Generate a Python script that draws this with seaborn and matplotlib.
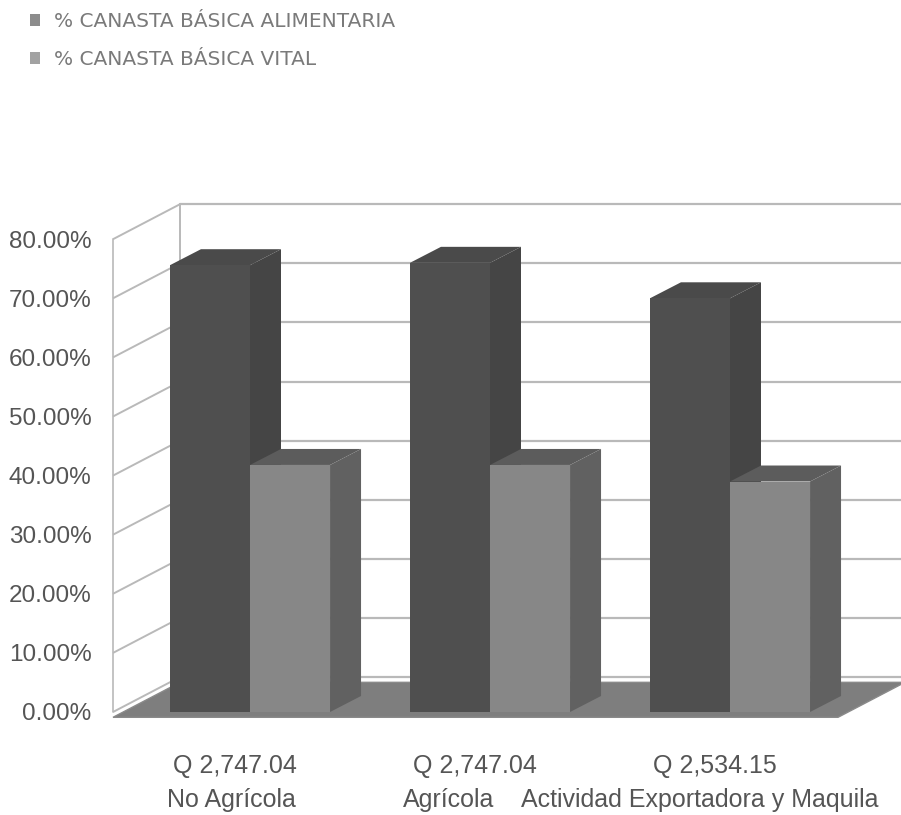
import matplotlib
matplotlib.use("Agg")
import matplotlib.pyplot as plt
import matplotlib.transforms as mtransforms
from matplotlib.patches import Polygon, Patch
import seaborn as sns
import pandas as pd

# ---------------- data ----------------
categories = ["No Agrícola", "Agrícola", "Actividad Exportadora y Maquila"]
salarios = ["Q 2,747.04", "Q 2,747.04", "Q 2,534.15"]
series = ["% CANASTA BÁSICA ALIMENTARIA", "% CANASTA BÁSICA VITAL"]
canasta_alimentaria = [75.6, 76.0, 70.0]
canasta_vital = [41.8, 41.8, 39.0]
y_ticks = [0, 10, 20, 30, 40, 50, 60, 70, 80]
y_tick_labels = [f"{v:.2f}%" for v in y_ticks]

df = pd.DataFrame({
    "categoria": categories * 2,
    "serie": [series[0]] * 3 + [series[1]] * 3,
    "valor": canasta_alimentaria + canasta_vital,
})

# ---------------- style ----------------
sns.set_style("white")
plt.rcParams["font.family"] = ["Liberation Sans", "DejaVu Sans"]

W, H = 901, 815
fig = plt.figure(figsize=(W / 100, H / 100), dpi=100)
# axes box in pixels
ax_l, ax_r, ax_t, ax_b = 100, 901, 190, 730
ax = fig.add_axes([ax_l / W, (H - ax_b) / H, (ax_r - ax_l) / W, (ax_b - ax_t) / H])

px_per_x = 240.0
px_per_y = 5.91
x_center0 = 250.0
y_zero = 712.0
xlim = ((ax_l - x_center0) / px_per_x, (ax_r - x_center0) / px_per_x)
ylim = (-(ax_b - y_zero) / px_per_y, (y_zero - ax_t) / px_per_y)

dark_front, dark_top, dark_side = "#4f4f4f", "#4a4a4a", "#454545"
light_front, light_top, light_side = "#878787", "#5c5c5c", "#616161"
grid_c = "#b9b9b9"

# depth offsets (data units)
dx_wall = 67 / px_per_x
dy_wall = 35 / px_per_y
dx_bar = 31 / px_per_x
dy_bar = 16 / px_per_y
x_wall = (113 - x_center0) / px_per_x
x_floor_r = (838 - x_center0) / px_per_x
x_back_r = xlim[1] + 0.1

# bars
sns.barplot(data=df, x="categoria", y="valor", hue="serie", order=categories,
            hue_order=series, palette=[dark_front, light_front], width=0.667,
            saturation=1, legend=False, ax=ax, linewidth=0, dodge=True)
ax.set_xlim(*xlim)
ax.set_ylim(*ylim)

# walls / gridlines
for v in y_ticks:
    ax.plot([x_wall, x_wall + dx_wall], [v, v + dy_wall], color=grid_c, lw=1.4, zorder=0.5,
            solid_capstyle="butt", clip_on=False)
    ax.plot([x_wall + dx_wall, x_back_r], [v + dy_wall, v + dy_wall], color=grid_c, lw=1.6,
            zorder=0.5, clip_on=False)
ax.plot([x_wall, x_wall], [0, y_ticks[-1]], color=grid_c, lw=1.2, zorder=0.5)
ax.plot([x_wall + dx_wall, x_wall + dx_wall], [dy_wall, y_ticks[-1] + dy_wall], color=grid_c,
        lw=1.4, zorder=0.5)

# floor
fl = -0.9
ax.add_patch(Polygon([(x_wall, fl), (x_floor_r, fl), (x_floor_r + dx_wall, fl + dy_wall),
                      (x_wall + dx_wall, fl + dy_wall)], closed=True,
                     facecolor="#7e7e7e", edgecolor="#8a8a8a", lw=1, zorder=1))

styles = [(dark_top, dark_side, 3), (light_top, light_side, 5)]
for cont, (ctop, cside, z) in zip(ax.containers, styles):
    for p in cont.patches:
        x0, w, h = p.get_x(), p.get_width(), p.get_height()
        p.set_zorder(z + 1)
        top = [(x0, h), (x0 + w, h), (x0 + w + dx_bar, h + dy_bar), (x0 + dx_bar, h + dy_bar)]
        side = [(x0 + w, 0), (x0 + w + dx_bar, dy_bar), (x0 + w + dx_bar, h + dy_bar), (x0 + w, h)]
        ax.add_patch(Polygon(top, closed=True, facecolor=ctop, edgecolor="none", zorder=z))
        ax.add_patch(Polygon(side, closed=True, facecolor=cside, edgecolor="none", zorder=z))

# axes cosmetics
for s in ax.spines.values():
    s.set_visible(False)
ax.set_xlabel("")
ax.set_ylabel("")
ax.set_yticks(y_ticks)
ax.set_yticklabels(y_tick_labels, fontsize=17.5, color="#555555")
ax.tick_params(axis="y", length=0, pad=6)
ax.set_xticks(range(len(categories)))
ax.set_xticklabels(salarios, fontsize=18, color="#555555")
ax.tick_params(axis="x", length=0, pad=17)
off = mtransforms.ScaledTranslation(-15 / 100, 0, fig.dpi_scale_trans)
for lab in ax.get_xticklabels():
    lab.set_transform(lab.get_transform() + off)

name_offsets = [-19, -41, -30]
for i, (name, o) in enumerate(zip(categories, name_offsets)):
    ax.annotate(name, xy=(i, 15), xycoords=("data", "figure pixels"),
                xytext=(o * 0.72, 0), textcoords="offset points",
                ha="center", va="center", fontsize=18, color="#555555", annotation_clip=False)

# legend
handles = [Patch(facecolor="#8c8c8c", edgecolor="none"), Patch(facecolor="#a2a2a2", edgecolor="none")]
fig.legend(handles, series, loc="upper left", bbox_to_anchor=(30 / W, 1 - 12 / H),
           frameon=False, prop={"family": "DejaVu Sans", "size": 14.5},
           labelcolor="#7a7a7a", handlelength=0.5, handleheight=0.5,
           handletextpad=0.7, labelspacing=0.95, borderpad=0, borderaxespad=0)

fig.savefig("out.png", dpi=100)
